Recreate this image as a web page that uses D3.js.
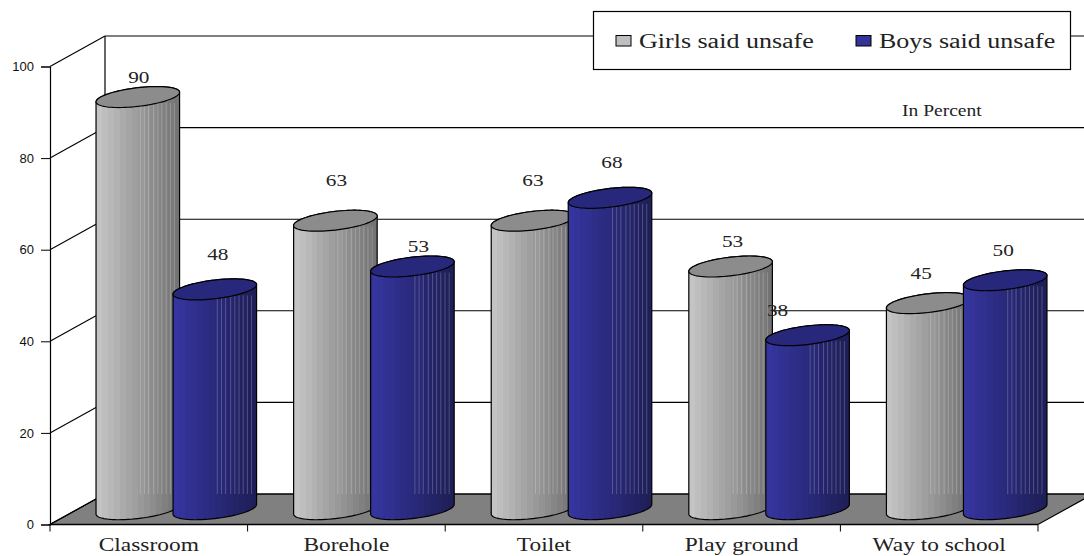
<!DOCTYPE html>
<html>
<head>
<meta charset="utf-8">
<script src="https://d3js.org/d3.v7.min.js"></script>
<style>
  body { margin: 0; background: #fff; }
  svg { display: block; }
  .serif { font-family: "Liberation Serif", serif; fill: #222; }
  .axis-text { font-family: "Liberation Sans", sans-serif; font-size: 13px; fill: #111; }
</style>
</head>
<body>
<div id="chart"></div>
<script>
const categories = ["Classroom", "Borehole", "Toilet", "Play ground", "Way to school"];
const seriesNames = ["Girls said unsafe", "Boys said unsafe"];
const girls = [90, 63, 63, 53, 45];
const boys = [48, 53, 68, 38, 50];
const yTicks = [0, 20, 40, 60, 80, 100];

// hand placed label nudges, [dx, dy] from the top of each cylinder
const labelNudge = [
    [[1, -20], [3, -35]],
    [[1, -41], [6, -21]],
    [[0, -41], [2, -36]],
    [[2, -26], [-30, -25]],
    [[-7, -30], [-2, -30]]
];

const width = 1084, height = 556;
const depth = {x: 55, y: -30.5};
const cyl = {ax: 37.2, dx: 19, dy: 10.5};

const svg = d3.select("#chart").append("svg")
    .attr("width", width)
    .attr("height", height);

const x = d3.scaleBand().domain(categories).range([50, 1038]);
const xInner = d3.scaleBand().domain(seriesNames).range([0, x.bandwidth()]).paddingOuter(0.283);
const y = d3.scaleLinear().domain([0, 100]).range([524.5, 66.5]);

// the original text is stretched sideways, so stretch the glyphs too
function stretch(sel, ratio) {
    sel.each(function () {
        const len = this.getComputedTextLength();
        d3.select(this)
            .attr("textLength", len * ratio)
            .attr("lengthAdjust", "spacingAndGlyphs");
    });
    return sel;
}

// stepped gradients, the original has visible strips
const defs = svg.append("defs");
function stepped(id, from, to) {
    const g = defs.append("linearGradient").attr("id", id);
    const n = 14;
    const col = d3.interpolateRgb(from, to);
    d3.range(n).forEach(i => {
        g.append("stop").attr("offset", i / n).attr("stop-color", col(i / (n - 1)));
        g.append("stop").attr("offset", (i + 1) / n).attr("stop-color", col(i / (n - 1)));
    });
}
stepped("girlsFill", "#c4c4c4", "#747474");
stepped("boysFill", "#35359f", "#1e1e58");

// back wall and floor
const floorPts = [[50, y(0)], [1038, y(0)], [1038 + depth.x, y(0) + depth.y], [50 + depth.x, y(0) + depth.y]];
svg.append("polygon")
    .attr("points", floorPts.join(" "))
    .attr("fill", "#808080")
    .attr("stroke", "#000")
    .attr("stroke-width", 1.2);

yTicks.forEach(t => {
    const yy = y(t);
    svg.append("line").attr("x1", 50).attr("y1", yy).attr("x2", 50 + depth.x).attr("y2", yy + depth.y)
        .attr("stroke", "#000").attr("stroke-width", 1.1);
    svg.append("line").attr("x1", 50 + depth.x).attr("y1", yy + depth.y).attr("x2", 1038 + depth.x).attr("y2", yy + depth.y)
        .attr("stroke", "#000").attr("stroke-width", 1.1);
});
svg.append("line").attr("x1", 105).attr("y1", y(100) + depth.y).attr("x2", 105).attr("y2", y(0) + depth.y)
    .attr("stroke", "#000").attr("stroke-width", 1.2);

// axes on the front plane
const yAxis = d3.axisLeft(y).tickValues(yTicks).tickSize(9).tickPadding(7);
const yG = svg.append("g").attr("transform", "translate(50,0)").call(yAxis);
yG.select(".domain").attr("stroke-width", 1.2);
yG.selectAll("text").attr("class", "axis-text");

const xAxisG = svg.append("g");
xAxisG.append("line").attr("x1", 50).attr("x2", 1038).attr("y1", y(0)).attr("y2", y(0))
    .attr("stroke", "#000").attr("stroke-width", 1.4);
d3.range(categories.length + 1).forEach(i => {
    const tx = 50 + i * x.step();
    xAxisG.append("line").attr("x1", tx).attr("x2", tx).attr("y1", y(0)).attr("y2", y(0) + 7)
        .attr("stroke", "#000");
});
categories.forEach(c => {
    xAxisG.append("text").attr("class", "serif")
        .attr("x", x(c) + x.bandwidth() / 2)
        .attr("y", 551)
        .attr("text-anchor", "middle")
        .attr("font-size", 18)
        .text(c)
        .call(stretch, 1.3);
});

// cylinders
const tMax = Math.atan2(cyl.dx, cyl.ax);
const ringPt = (cx, cy, t) => [
    cx + cyl.ax * Math.cos(t) + cyl.dx * Math.sin(t),
    cy - cyl.dy * Math.sin(t)
];
const line = d3.line();
const stripes = [0.53, 0.58, 0.63, 0.69, 0.74, 0.79, 0.84, 0.89, 0.94];

function drawCylinder(name, fill, topFill, value, catIndex) {
    const cat = categories[catIndex];
    const cx = x(cat) + xInner(name) + xInner.bandwidth() / 2 + depth.x / 2;
    const yTop = y(value) + depth.y / 2;
    const yBase = y(0) + depth.y / 2;
    const w = 2 * Math.hypot(cyl.ax, cyl.dx);

    const lower = d3.range(0, 41).map(i => ringPt(cx, yBase, tMax + Math.PI + Math.PI * i / 40));
    const upper = d3.range(0, 41).map(i => ringPt(cx, yTop, tMax + Math.PI * i / 40));
    const body = lower.concat(upper);

    const g = svg.append("g");
    g.append("path")
        .attr("d", line(body) + "Z")
        .attr("fill", `url(#${fill})`)
        .attr("stroke", "#000")
        .attr("stroke-width", 1.2);

    // light strip lines on the shaded side
    stripes.forEach(s => {
        const sx = cx - w / 2 + s * w;
        g.append("line")
            .attr("x1", sx).attr("x2", sx)
            .attr("y1", yTop + 6)
            .attr("y2", y(0) + depth.y)
            .attr("stroke", "#fff")
            .attr("stroke-opacity", 0.22);
    });

    const ring = d3.range(0, 81).map(i => ringPt(cx, yTop, 2 * Math.PI * i / 80));
    g.append("path")
        .attr("d", line(ring) + "Z")
        .attr("fill", topFill)
        .attr("stroke", "#000")
        .attr("stroke-width", 1.2);

    return [cx, yTop];
}

categories.forEach((c, i) => {
    const a = drawCylinder(seriesNames[0], "girlsFill", "#8c8c8c", girls[i], i);
    const b = drawCylinder(seriesNames[1], "boysFill", "#27277c", boys[i], i);
    [[a, girls[i]], [b, boys[i]]].forEach(([p, v], s) => {
        svg.append("text").attr("class", "serif")
            .attr("x", p[0] + labelNudge[i][s][0])
            .attr("y", p[1] + labelNudge[i][s][1] + 6)
            .attr("text-anchor", "middle")
            .attr("font-size", 17)
            .text(v)
            .call(stretch, 1.25);
    });
});

svg.append("text").attr("class", "serif")
    .attr("x", 902).attr("y", 116)
    .attr("font-size", 16)
    .text("In Percent")
    .call(stretch, 1.22);

// legend
const legend = svg.append("g");
legend.append("rect")
    .attr("x", 593.5).attr("y", 11.5).attr("width", 477).attr("height", 58)
    .attr("fill", "#fff").attr("stroke", "#000").attr("stroke-width", 1.2);
[[616, 639, "#bfbfbf"], [856, 879, "#33339a"]].forEach((d, i) => {
    legend.append("rect")
        .attr("x", d[0]).attr("y", 35.5).attr("width", 15).attr("height", 10.5)
        .attr("fill", d[2]).attr("stroke", "#000");
    legend.append("text").attr("class", "serif")
        .attr("x", d[1]).attr("y", 48)
        .attr("font-size", 20)
        .text(seriesNames[i])
        .call(stretch, 1.3);
});
</script>
</body>
</html>
